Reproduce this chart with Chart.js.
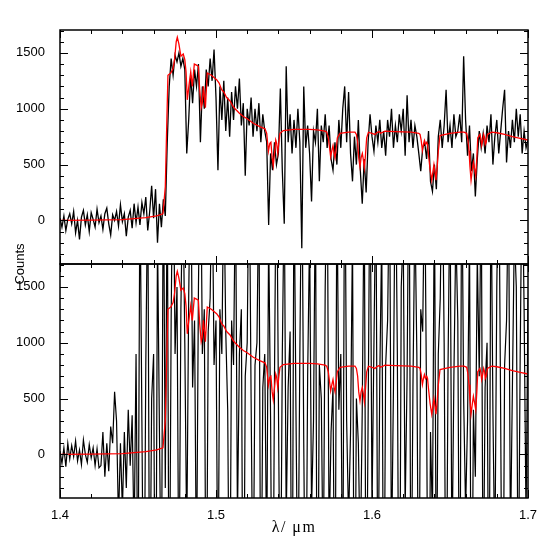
<!DOCTYPE html>
<html><head><meta charset="utf-8">
<script src="https://cdn.jsdelivr.net/npm/chart.js@4"></script>
<style>html,body{margin:0;padding:0;background:#fff}#wrap{width:558px;height:558px}</style>
</head><body><div id="wrap"><canvas id="c" width="558" height="558"></canvas></div>
<script>
// wavelength grid of the observed spectra (micron)
const wlStart = 1.4;
const wlStep = 0.00125;

// observed counts, upper panel
const topCounts = [
  20,-60,40,-90,10,60,-30,80,-110,0,
  -170,30,90,-40,50,-100,70,10,-60,100,
  -20,40,-80,60,110,-30,-130,50,0,80,
  -50,140,-10,60,-140,30,90,-70,150,-20,
  120,
  -40,160,60,210,-90,80,310,20,280,-200,150,-60,190,40,
  700,1200,1450,1300,1480,1420,1500,1380,1450,1350,
  600,900,1300,1050,1350,1200,1400,700,1200,1000,
  1350,1200,1450,1250,1530,1100,450,1200,900,1250,
  800,1100,750,1150,900,1200,1000,1270,850,1050,
  400,1000,850,1100,750,1000,800,1050,700,950,
  800,700,-40,600,450,700,500,600,1180,450,
  -30,1380,700,950,600,900,650,1000,700,-250,
  1200,650,850,600,170,800,700,1000,350,850,
  700,950,650,850,550,450,700,500,900,650,
  1000,1200,700,1150,600,350,750,500,900,450,
  150,550,250,700,950,750,620,850,700,900,
  650,800,580,900,750,1000,650,850,700,950,
  800,1000,580,1120,700,900,650,850,750,600,
  440,650,700,550,800,350,260,500,280,750,
  900,650,850,1170,700,850,650,950,750,800,
  950,700,1470,900,580,850,440,600,215,550,
  800,650,780,600,850,700,950,500,750,900,
  600,800,1000,1170,520,800,650,900,700,1000,
  750,950,600,800,650,720
];

// observed counts, lower panel (noisier reduction)
const bottomCounts = [
  30,-80,60,-110,100,-40,80,-20,120,-60,
  40,-90,130,0,-70,90,-30,60,-100,50,
  -120,
  -100,200,-200,100,-150,250,100,560,300,-600,100,-500,200,-300,400,-100,350,-800,900,
  -1500,2500,300,-2000,800,2500,-1800,500,900,-2500,2000,200,-1500,2800,-300,
  2500,-2000,1200,3000,900,1500,-1500,1300,2500,1000,
  -800,1400,2800,600,1200,-1200,1500,3000,900,1300,
  -2000,1100,1400,2600,800,1200,
  -1500,1300,900,2500,1100,400,-2000,1200,800,2500,
  -600,900,1300,-2500,700,1000,2800,500,-1500,800,
  1000,2500,-2000,600,900,-1000,2000,300,-2500,700,
  3000,500,-1800,900,2400,-600,600,1100,-2200,2600,
  400,-1500,900,2800,100,-2000,700,2000,-500,300,
  2500,-2500,800,500,-1200,1500,2800,-800,200,600,
  -2000,2500,400,900,-1500,3000,300,-600,200,2000,
  -2500,500,100,-1000,400,2500,-2000,300,2800,-500,
  1000,2500,-1500,700,2000,-2200,800,1200,2600,-1000,
  600,2800,900,-2500,1500,2000,-500,700,3000,-1800,
  600,2200,900,-2000,1300,1100,2600,400,-2500,200,
  -600,2500,-1500,900,1400,2800,1000,-2000,800,2500,
  -1000,700,2000,1200,-2200,2800,500,-500,300,2000,
  -2500,400,-200,1800,700,2500,-1500,600,1000,-2000,
  2600,400,-1000,1500,2800,300,-2500,800,1200,2500,
  -800,600,2000,1500,-1500,900,2700,1300,-600,1400
];

// model spectrum (red)
const modelWl = [
  1.400,1.420,1.440,1.455,1.462,1.466,1.4675,1.4685,1.4692,1.4710,
  1.4725,1.4735,1.4745,1.4752,1.4762,1.4775,1.4790,1.4800,1.4808,1.4816,
  1.4826,1.4838,1.4848,1.4861,1.4875,1.4887,1.4895,1.4905,1.4912,1.4919,
  1.4925,1.4932,1.4944,1.4970,1.5004,1.5020,1.5036,1.5050,1.5068,1.5090,
  1.5110,1.5122,1.5150,1.5175,1.5200,1.5239,1.5280,1.5314,1.5325,1.5336,
  1.5345,1.5352,1.5360,1.5367,1.5375,1.5383,1.5389,1.5396,1.5403,1.5410,
  1.5432,1.5500,1.5600,1.5650,1.5699,1.5710,1.5720,1.5735,1.5742,1.5750,
  1.5757,1.5763,1.5770,1.5778,1.5795,1.5850,1.5891,1.5900,1.5908,1.5915,
  1.5923,1.5930,1.5938,1.5945,1.5951,1.5958,1.5966,1.5977,1.6000,1.6019,
  1.6030,1.6045,1.6055,1.6070,1.6083,1.6150,1.6250,1.6300,1.6308,1.6315,
  1.6323,1.6330,1.6336,1.6343,1.6351,1.6356,1.6362,1.6372,1.6383,1.6390,
  1.6397,1.6404,1.6410,1.6418,1.6425,1.6436,1.6500,1.6564,1.6590,1.6607,
  1.6615,1.6622,1.6628,1.6635,1.6642,1.6650,1.6658,1.6665,1.6672,1.6678,
  1.6692,1.6698,1.6703,1.6710,1.6716,1.6722,1.6726,1.6732,1.6740,1.6767,
  1.6800,1.6850,1.6900,1.6950,1.7000
];
const modelCounts = [
  0,2,8,25,40,60,300,900,1300,1320,
  1360,1450,1600,1640,1580,1470,1490,1440,1330,1080,
  1200,1330,1200,1400,1390,1380,1180,1010,1050,1200,
  1120,1010,1320,1300,1260,1230,1170,1150,1100,1070,
  1020,1000,960,930,910,870,840,820,780,620,
  690,700,560,490,600,720,690,600,700,780,
  805,815,815,810,800,790,740,570,620,670,
  600,560,640,740,780,790,790,770,700,560,
  480,560,600,540,470,580,740,790,780,770,
  785,795,780,790,800,795,790,780,770,720,
  625,680,715,680,700,680,590,460,360,430,
  500,430,360,480,620,760,780,790,790,780,
  720,625,480,360,440,520,460,400,560,740,
  770,730,670,720,770,740,680,700,770,790,
  785,770,750,735,720
];

// axes
const xMin = 1.4, xMax = 1.7;
const yMin = -390, yMax = 1705;
const xTickValues = [1.4, 1.5, 1.6, 1.7];
const xTickLabels = ['1.4', '1.5', '1.6', '1.7'];
const yTickValues = [0, 500, 1000, 1500];
const yTickLabels = ['0', '500', '1000', '1500'];
const xMinorStep = 0.02, xMajorEvery = 5;
const yMinorStep = 100, yMajorEvery = 5;
const yTitle = 'Counts';
const xTitle = 'λ/ μm';

const toXY = arr => arr.map((y, i) => ({x: wlStart + i * wlStep, y}));
const modelXY = modelWl.map((x, i) => ({x, y: modelCounts[i]}));

const tickFont = {family: '"Liberation Sans", Arial, sans-serif', size: 13};

const panelPlugin = {
  id: 'panels',
  beforeDatasetDraw(chart, args) {
    const m = args.meta, ctx = chart.ctx;
    ctx.save();
    ctx.beginPath();
    ctx.rect(m.xScale.left, m.yScale.top, m.xScale.right - m.xScale.left, m.yScale.bottom - m.yScale.top);
    ctx.clip();
  },
  afterDatasetDraw(chart) { chart.ctx.restore(); },
  afterDraw(chart) {
    const ctx = chart.ctx, xs = chart.scales.x;
    ctx.save();
    ctx.strokeStyle = '#000';
    for (const id of ['yTop', 'yBot']) {
      const ys = chart.scales[id];
      const L = xs.left, R = xs.right, T = ys.top, B = ys.bottom;
      ctx.lineWidth = 1;
      ctx.beginPath();
      const nx = Math.round((xMax - xMin) / xMinorStep);
      for (let k = 0; k <= nx; k++) {
        const px = Math.round(xs.getPixelForValue(xMin + k * xMinorStep)) + 0.5;
        const len = (k % xMajorEvery === 0) ? 8 : 4;
        ctx.moveTo(px, B); ctx.lineTo(px, B - len);
        ctx.moveTo(px, T); ctx.lineTo(px, T + len);
      }
      for (let v = Math.ceil(yMin / yMinorStep) * yMinorStep; v <= yMax; v += yMinorStep) {
        const py = Math.round(ys.getPixelForValue(v)) + 0.5;
        const len = (Math.round(v / yMinorStep) % yMajorEvery === 0) ? 8 : 4;
        ctx.moveTo(L, py); ctx.lineTo(L + len, py);
        ctx.moveTo(R, py); ctx.lineTo(R - len, py);
      }
      ctx.stroke();
      ctx.lineWidth = 1.5;
      ctx.strokeRect(L, T, R - L, B - T);
    }
    // axis titles
    ctx.fillStyle = '#000';
    ctx.textAlign = 'center';
    ctx.textBaseline = 'middle';
    ctx.font = '13px "Liberation Sans", Arial, sans-serif';
    const yc = (chart.scales.yTop.top + chart.scales.yBot.bottom) / 2;
    ctx.save();
    ctx.translate(20, yc);
    ctx.rotate(-Math.PI / 2);
    ctx.fillText(yTitle, 0, 0);
    ctx.restore();
    ctx.font = '16px "Liberation Serif", "Times New Roman", serif';
    try { ctx.letterSpacing = '1.5px'; } catch (e) {}
    ctx.fillText(xTitle, (xs.left + xs.right) / 2, 528);
    ctx.restore();
  }
};

const yAxis = () => ({
  type: 'linear', position: 'left', stack: 'panels', stackWeight: 1,
  min: yMin, max: yMax,
  grid: {display: false}, border: {display: false},
  ticks: {
    font: tickFont, color: '#000', padding: 7,
    callback: v => { const i = yTickValues.indexOf(v); return i >= 0 ? yTickLabels[i] : ''; }
  },
  afterBuildTicks: s => { s.ticks = yTickValues.map(v => ({value: v})); },
  afterFit: s => { s.width = 60; }
});

new Chart(document.getElementById('c'), {
  type: 'line',
  data: {
    datasets: [
      {data: modelXY, yAxisID: 'yTop', borderColor: '#ff0000', borderWidth: 1.3, pointRadius: 0, tension: 0},
      {data: modelXY, yAxisID: 'yBot', borderColor: '#ff0000', borderWidth: 1.3, pointRadius: 0, tension: 0},
      {data: toXY(topCounts), yAxisID: 'yTop', borderColor: '#000', borderWidth: 1.3, pointRadius: 0, tension: 0},
      {data: toXY(bottomCounts), yAxisID: 'yBot', borderColor: '#000', borderWidth: 1.2, pointRadius: 0, tension: 0}
    ]
  },
  options: {
    responsive: false, animation: false, devicePixelRatio: 1,
    layout: {padding: {top: 30, right: 30, left: 0, bottom: 0}},
    plugins: {legend: {display: false}, tooltip: {enabled: false}},
    scales: {
      x: {
        type: 'linear', position: 'bottom', min: xMin, max: xMax,
        grid: {display: false}, border: {display: false},
        ticks: {
          font: tickFont, color: '#000', padding: 2,
          callback: v => { const i = xTickValues.findIndex(t => Math.abs(t - v) < 1e-6); return i >= 0 ? xTickLabels[i] : ''; }
        },
        afterBuildTicks: s => { s.ticks = xTickValues.map(v => ({value: v})); },
        afterFit: s => { s.height = 60; }
      },
      yBot: yAxis(),
      yTop: yAxis()
    }
  },
  plugins: [panelPlugin]
});
</script></body></html>
